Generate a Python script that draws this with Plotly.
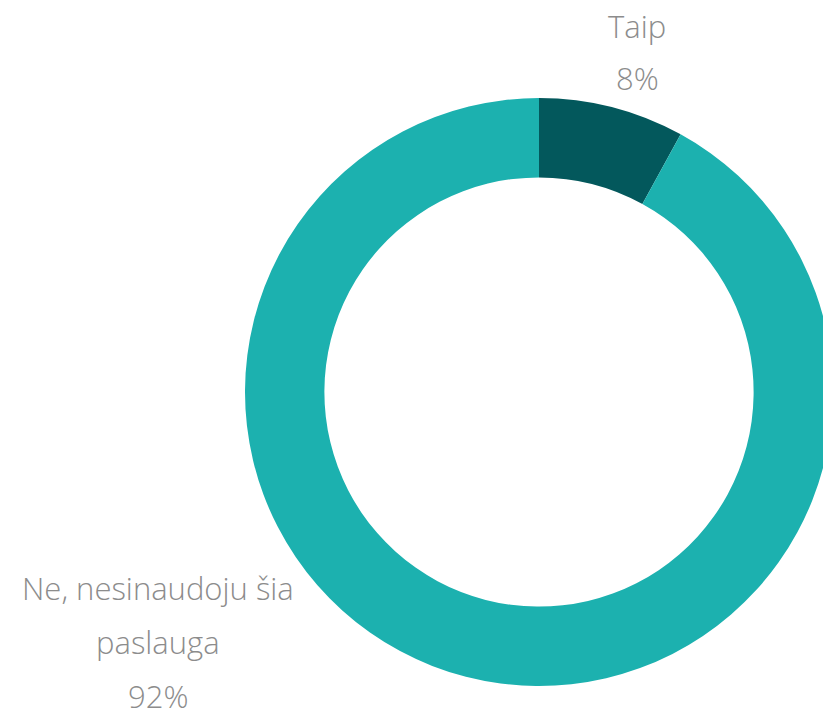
import plotly.graph_objects as go

labels = ["Taip", "Ne, nesinaudoju šia paslauga"]
values = [8, 92]
colors = ["#03585C", "#1CB1AF"]
label_lines = [["Taip", "8%"], ["Ne, nesinaudoju šia", "paslauga", "92%"]]

W, H = 833, 713
L, R, T, B = 245, 0, 98, 27
PW, PH = W - L - R, H - T - B

def px(x):
    return (x - L) / PW

def py(y):
    return (H - B - y) / PH

fig = go.Figure(go.Pie(
    labels=labels, values=values, hole=0.73,
    direction="clockwise", sort=False, rotation=0,
    marker=dict(colors=colors, line=dict(width=0)),
    textinfo="none", hoverinfo="label+percent", showlegend=False,
))

# label anchor positions (pixels) for each slice: centre x, first line y, line step
anchors = [(637, 26, 52), (158, 588, 54)]
ann = []
for (cx, y0, dy), lines in zip(anchors, label_lines):
    for i, t in enumerate(lines):
        ann.append(dict(text=t, x=px(cx), y=py(y0 + i * dy), xref="paper", yref="paper",
                        xanchor="center", yanchor="middle", showarrow=False,
                        font=dict(family="Open Sans", size=31, color="#8C8C8C", weight=300)))

fig.update_layout(width=W, height=H, margin=dict(l=L, r=R, t=T, b=B),
                  paper_bgcolor="white", plot_bgcolor="white", annotations=ann)
fig.write_html("out.html", config={"displayModeBar": False},
               post_script="document.body.style.margin='0';document.body.style.overflow='hidden';")
